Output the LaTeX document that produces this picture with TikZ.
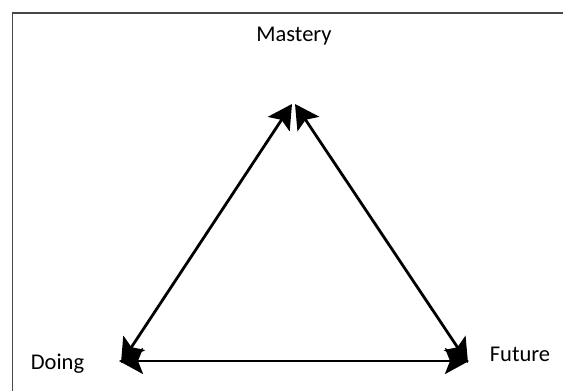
\documentclass[tikz,border=0pt]{standalone}
\usepackage{fontspec}
\setmainfont{Carlito}
\usetikzlibrary{arrows.meta}
\begin{document}
\begin{tikzpicture}[x=1pt,y=-1pt,
  lbl/.style={font=\fontsize{22.5pt}{25pt}\selectfont, anchor=base, inner sep=0pt, text=black},
  dbl/.style={line width=2.8pt, {Stealth[length=24pt,width=26pt,inset=5pt]}-{Stealth[length=24pt,width=26pt,inset=5pt]}}]
\useasboundingbox (0,0) rectangle (563,391);
\draw[line width=1.6pt, color=black!72] (12.5,395) -- (12.5,13) -- (567,13);
\node[lbl] (mastery) at (294,41) {Mastery};
\node[lbl] (doing) at (57.5,369) {Doing};
\node[lbl] (future) at (520,361) {Future};
\coordinate (topL) at (292,104);
\coordinate (topR) at (295,104);
\coordinate (blD) at (121,363);
\coordinate (blH) at (119,361);
\coordinate (brD) at (468,363);
\coordinate (brH) at (469,361);
\draw[dbl] (topL) -- (blD);
\draw[dbl] (topR) -- (brD);
\draw[dbl] (blH) -- (brH);
\end{tikzpicture}
\end{document}
